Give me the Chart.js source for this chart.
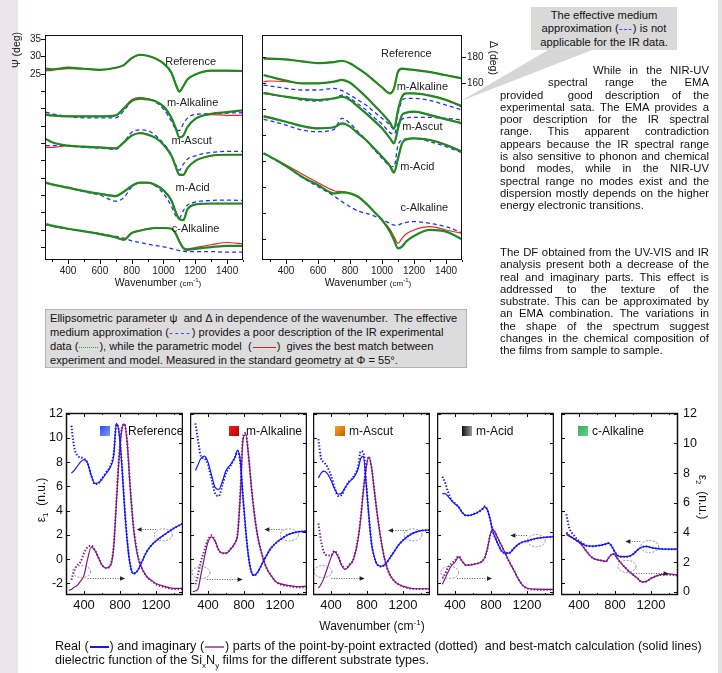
<!DOCTYPE html>
<html>
<head>
<meta charset="utf-8">
<script src="https://cdn.jsdelivr.net/npm/chart.js@4.4.1/dist/chart.umd.min.js"></script>
<style>
  body { margin: 0; width: 722px; height: 673px; position: relative; overflow: hidden; background: #fff;
         font-family: Arial, "Liberation Sans", sans-serif; color: #111; }
  canvas, .abs { position: absolute; }
  .mid { position: absolute; white-space: nowrap; transform: translate(-50%, -50%); }
  .para { position: absolute; left: 500px; width: 209px; font-size: 11.3px; line-height: 12.3px; }
  .j { white-space: nowrap; text-align: justify; text-align-last: justify; }
  .ln { display: inline-block; width: 19px; height: 0; vertical-align: middle; margin: 0 1px; }
  .sq { position: absolute; width: 10px; height: 10px; }
  .lg { position: absolute; font-size: 12px; white-space: nowrap; line-height: 12px; }
  .dash { color: #2233ff; letter-spacing: 2px; }
</style>
</head>
<body>
<div class="abs" style="left:0;top:0;width:18px;height:673px;background:#ebe4e8"></div>
<div class="abs" style="left:718px;top:0;width:4px;height:673px;background:#e2e2e2"></div>

<canvas id="psi" width="250" height="270" style="left:0;top:30px"></canvas>
<canvas id="del" width="237" height="270" style="left:255px;top:30px"></canvas>
<canvas id="p0" width="167" height="210" style="left:16px;top:405px"></canvas>
<canvas id="p1" width="117" height="210" style="left:190px;top:405px"></canvas>
<canvas id="p2" width="117" height="210" style="left:313px;top:405px"></canvas>
<canvas id="p3" width="117" height="210" style="left:437px;top:405px"></canvas>
<canvas id="p4" width="147" height="210" style="left:561px;top:405px"></canvas>

<svg class="abs" style="left:0;top:0" width="722" height="673">
  <polygon points="548,50 592,50 461,101" fill="#d6d6d6"/>
</svg>

<!-- axis titles, top -->
<div class="mid" style="left:16px;top:50px;font-size:10.5px;transform:translate(-50%,-50%) rotate(-90deg)">&Psi; (deg)</div>
<div class="mid" style="left:494px;top:58px;font-size:10.5px;transform:translate(-50%,-50%) rotate(90deg)">&Delta; (deg)</div>
<div class="mid" style="left:158px;top:282px;font-size:10.5px">Wavenumber <span style="font-size:8px">(cm<sup style="font-size:6px">-1</sup>)</span></div>
<div class="mid" style="left:368px;top:282px;font-size:10.5px">Wavenumber <span style="font-size:8px">(cm<sup style="font-size:6px">-1</sup>)</span></div>

<!-- callout -->
<div class="abs" style="left:531px;top:7px;width:146px;height:43px;background:#d9d9d9;font-size:11.2px;line-height:13.4px;text-align:center;padding-top:2px;box-sizing:border-box;white-space:nowrap">
  The effective medium<br>approximation (<span class="dash" style="letter-spacing:1px">---</span>) is not<br>applicable for the IR data.
</div>

<div class="para" style="top:64px">
  <div class="j" style="padding-left:93px">While in the NIR-UV</div>
  <div class="j" style="padding-left:48px">spectral range the EMA</div>
  <div class="j">provided &nbsp;good description of the</div>
  <div class="j">experimental sata. The EMA provides a</div>
  <div class="j">poor description for the IR spectral</div>
  <div class="j">range. This apparent contradiction</div>
  <div class="j">appears because the IR spectral range</div>
  <div class="j">is also sensitive to phonon and chemical</div>
  <div class="j">bond modes, while in the NIR-UV</div>
  <div class="j">spectral range no modes exist and the</div>
  <div class="j">dispersion mostly depends on the higher</div>
  <div>energy electronic transitions.</div>
</div>
<div class="para" style="top:246px">
  <div class="j">The DF obtained from the UV-VIS and IR</div>
  <div class="j">analysis present both a decrease of the</div>
  <div class="j">real and imaginary parts. This effect is</div>
  <div class="j">addressed to the texture of the</div>
  <div class="j">substrate. This can be approximated by</div>
  <div class="j">an EMA combination. The variations in</div>
  <div class="j">the shape of the spectrum suggest</div>
  <div class="j">changes in the chemical composition of</div>
  <div>the films from sample to sample.</div>
</div>

<div class="abs" style="left:45px;top:309px;width:422px;height:59px;box-sizing:border-box;background:#dcdcdc;border:1px solid #b4b4b4;padding:1px 4px;font-size:11.1px;line-height:14px;white-space:nowrap">
  Ellipsometric parameter &psi;&nbsp; and &Delta; in dependence of the wavenumber.&nbsp; The effective<br>
  medium approximation (<span class="dash">----</span>) provides a poor description of the IR experimental<br>
  data (<span class="ln" style="width:19px;border-top:1.5px dotted #2a9a2a"></span>), while the parametric model &nbsp;(<span class="ln" style="width:23px;border-top:1.5px solid #e02020"></span>) &nbsp;gives the best match between<br>
  experiment and model. Measured in the standard geometry at &Phi; = 55&deg;.
</div>

<!-- bottom panels: legends and titles -->
<div class="sq" style="left:100px;top:426px;background:linear-gradient(135deg,#2c4cff,#7f9cff)"></div>
<div class="lg" style="left:128px;top:425px">Reference</div>
<div class="sq" style="left:229px;top:426px;background:linear-gradient(135deg,#f02020,#b80000)"></div>
<div class="lg" style="left:246px;top:425px">m-Alkaline</div>
<div class="sq" style="left:335px;top:426px;background:linear-gradient(135deg,#f7a52a,#c85a00)"></div>
<div class="lg" style="left:349px;top:425px">m-Ascut</div>
<div class="sq" style="left:462px;top:426px;background:linear-gradient(90deg,#111,#9a9a9a)"></div>
<div class="lg" style="left:476px;top:425px">m-Acid</div>
<div class="sq" style="left:578px;top:426px;background:linear-gradient(135deg,#2fae5c,#6cd08e)"></div>
<div class="lg" style="left:592px;top:425px">c-Alkaline</div>

<div class="mid" style="left:42px;top:500px;font-size:12px;transform:translate(-50%,-50%) rotate(-90deg)">&epsilon;<sub style="font-size:8px">1</sub>&nbsp; (n.u.)</div>
<div class="mid" style="left:702px;top:497px;font-size:12px;transform:translate(-50%,-50%) rotate(90deg)">&epsilon;<sub style="font-size:8px">2</sub>&nbsp; (n.u.)</div>
<div class="mid" style="left:372px;top:625px;font-size:12px">Wavenumber (cm<sup style="font-size:8px">-1</sup>)</div>

<div class="abs" style="left:55px;top:639px;font-size:12.6px;line-height:14px;white-space:nowrap">
  Real (<span class="ln" style="border-top:2px solid #1414ff"></span>) and imaginary (<span class="ln" style="border-top:2px solid #b060b8"></span>) parts of the point-by-point extracted (dotted)&nbsp; and best-match calculation (solid lines)<br>
  dielectric function of the Si<sub style="font-size:8px">x</sub>N<sub style="font-size:8px">y</sub> films for the different substrate types.
</div>

<script>
// ---- top panels: wavenumber grid (cm-1) and tick labels
const TOP_X = [260, 300, 400, 500, 600, 700, 750, 800, 850, 900, 950, 1000, 1050, 1075, 1100, 1125, 1150, 1200, 1300, 1400, 1500];
const TOP_XTICKS = [400, 600, 800, 1000, 1200, 1400];
const TOP_XMINOR = [300, 500, 700, 900, 1100, 1300, 1500];
const PSI_TICKS = [-25, -20, -15, -10, -5, 0, 5, 10, 15, 20, 25, 30, 35];
const PSI_LABELS = [25, 30, 35];
const DEL_TICKS = [40, 60, 80, 100, 120, 140, 160, 180];
const DEL_LABELS = [160, 180];
const SAMPLES = ['Reference', 'm-Alkaline', 'm-Ascut', 'm-Acid', 'c-Alkaline'];

// Psi (deg), curves offset in the plot; EXP = experiment, FIT = parametric model, EMA = effective medium
const PSI_REF_EXP = [26.5, 26.3, 26.75, 26.45, 26.15, 26.75, 27.5, 29.5, 30.5, 30.2, 29.4, 28.0, 25.3, 22.2, 19.8, 21.4, 23.35, 24.8, 25.9, 25.9, 25.8];
const PSI_REF_FIT = [25.9, 26.0, 26.5, 26.4, 26.1, 26.7, 27.5, 29.4, 30.4, 30.2, 29.4, 28.0, 25.4, 22.4, 20.1, 21.4, 23.3, 24.8, 25.8, 25.8, 25.7];
const PSI_ALK_EXP = [13.25, 12.96, 12.67, 12.67, 12.67, 12.96, 14.9, 17.14, 17.82, 17.62, 17.04, 15.58, 12.28, 9.56, 6.6, 7.14, 9.56, 11.99, 13.45, 13.93, 14.42];
const PSI_ALK_FIT = [13.0, 12.9, 12.8, 12.7, 12.7, 13.0, 15.1, 17.5, 18.1, 17.8, 17.1, 15.6, 12.3, 9.6, 6.8, 7.3, 9.6, 12.0, 13.2, 13.0, 13.0];
const PSI_ALK_EMA = [13.93, 13.45, 12.67, 12.28, 12.28, 12.28, 14.22, 17.04, 17.62, 17.52, 16.84, 14.8, 11.31, 9.08, 8.59, 10.53, 12.18, 13.25, 13.45, 13.64, 13.74];
const PSI_ASC_EXP = [6.17, 5.19, 4.22, 3.93, 3.74, 3.45, 5.19, 7.14, 7.82, 7.43, 6.46, 4.51, 1.31, -1.6, -4.2, -4.2, -2.28, -0.15, 1.31, 1.6, 1.6];
const PSI_ASC_FIT = [3.74, 3.74, 4.22, 3.93, 3.74, 3.5, 5.3, 7.2, 7.9, 7.5, 6.5, 4.5, 1.3, -1.6, -4.0, -4.1, -2.3, -0.2, 1.3, 1.6, 1.6];
const PSI_ASC_EMA = [4.22, 4.22, 4.22, 3.74, 3.54, 3.16, 5.19, 8.11, 8.79, 8.59, 7.14, 4.9, 1.6, -1.12, -2.86, -1.12, 0.34, 1.31, 2.28, 2.57, 2.57];
const PSI_ACI_EXP = [-6.46, -6.94, -7.91, -8.88, -9.66, -10.34, -9.08, -7.43, -6.46, -6.46, -7.14, -8.69, -11.6, -14.71, -17.0, -17.3, -14.22, -12.77, -12.48, -12.48, -12.48];
const PSI_ACI_FIT = [-6.6, -7.0, -7.9, -8.9, -9.6, -10.2, -9.0, -7.4, -6.5, -6.5, -7.1, -8.6, -11.5, -14.6, -16.9, -17.2, -14.3, -12.8, -12.5, -12.5, -12.5];
const PSI_ACI_EMA = [-6.46, -6.94, -7.91, -9.08, -10.05, -11.8, -10.83, -7.72, -6.46, -6.46, -7.43, -9.66, -13.25, -15.87, -16.65, -14.51, -12.96, -12.09, -11.6, -11.5, -11.6];
const PSI_CAL_EXP = [-18.4, -18.88, -19.76, -20.53, -21.31, -22.28, -22.96, -21.02, -20.34, -19.85, -19.56, -19.56, -19.76, -21.02, -23.45, -25.39, -25.87, -25.58, -25.1, -24.71, -24.71];
const PSI_CAL_FIT = [-18.6, -19.0, -19.8, -20.5, -21.2, -22.2, -22.8, -21.0, -20.3, -19.8, -19.5, -19.5, -19.7, -21.0, -23.3, -25.2, -25.6, -25.2, -24.4, -23.74, -24.13];
const PSI_CAL_EMA = [-18.59, -19.08, -19.85, -20.53, -21.21, -21.99, -22.48, -23.25, -23.74, -24.22, -24.61, -25.0, -25.49, -25.78, -26.07, -26.26, -26.36, -26.36, -26.36, -26.55, -26.55];

// Delta (deg)
const DEL_REF_EXP = [179.2, 179, 178.5, 176.9, 175.6, 176.4, 177.4, 175.4, 171.5, 167.2, 162.1, 156.9, 152.3, 156.2, 169, 171.3, 171, 170.3, 168.7, 166.2, 163.8];
const DEL_REF_FIT = [178.8, 178.7, 178.3, 176.9, 175.8, 176.5, 177.2, 175.3, 171.5, 167.2, 162.1, 157.0, 152.6, 156.5, 168.5, 171.0, 170.8, 170.2, 168.6, 166.3, 164.0];
const DEL_ALK_EXP = [166.4, 165.1, 162.1, 160, 160, 161.3, 162.6, 160.5, 155.4, 149.7, 143.3, 136.9, 129.7, 124.9, 139.5, 149.7, 152.3, 152.3, 150.5, 147.2, 142.1];
const DEL_ALK_FIT = [161.3, 161.8, 161.3, 160, 160, 161.3, 162.4, 160.4, 155.4, 149.7, 143.3, 136.9, 129.8, 125.2, 139.0, 149.5, 152.2, 152.3, 150.6, 147.6, 142.8];
const DEL_ALK_EMA = [158.7, 158, 156.2, 154.9, 154.9, 156.2, 154.4, 151, 147.2, 143.3, 138.2, 133.1, 127.9, 124.6, 136.9, 146.7, 148.5, 148.5, 146.7, 143.3, 139.5];
const DEL_ASC_EXP = [152.8, 151.8, 149.7, 148, 147.2, 148.5, 149.7, 147.2, 142.1, 136.9, 131.3, 125.4, 117.7, 113.8, 125.4, 135.6, 137.4, 138.2, 135.6, 132.3, 129.2];
const DEL_ASC_FIT = [152.0, 151.5, 149.6, 148, 147.2, 148.4, 149.5, 147.2, 142.2, 137.0, 131.4, 125.5, 117.9, 114.2, 125.0, 135.2, 137.2, 138.0, 135.8, 132.6, 129.6];
const DEL_ASC_EMA = [152.3, 151.5, 149.7, 147.2, 146.4, 148.5, 151, 148.5, 144.1, 139.5, 133.8, 128.7, 122.1, 121, 128.7, 132.3, 133.6, 133.8, 133.8, 133.1, 131.8];
const DEL_ACI_EXP = [134.9, 133.6, 130.5, 127.2, 125.4, 126.2, 129.2, 126.7, 121.5, 116.4, 110, 103.6, 96.4, 91.3, 102.3, 113.8, 116.9, 117.7, 116.4, 112.6, 107.4];
const DEL_ACI_FIT = [134.0, 133.2, 130.4, 127.3, 125.5, 126.3, 129.0, 126.8, 121.6, 116.4, 110.1, 103.8, 96.8, 91.9, 101.8, 113.4, 116.7, 117.6, 116.5, 112.9, 107.8];
const DEL_ACI_EMA = [132.3, 131.3, 127.9, 124.1, 122.8, 124.6, 133.1, 129.2, 122.8, 116.4, 109.2, 102.3, 96.4, 95.9, 112.6, 116.4, 117.2, 117.7, 115.1, 111.3, 106.7];
const DEL_CAL_EXP = [106.2, 103.6, 96.4, 88.2, 81.8, 75.4, 76.2, 75.4, 72.8, 67.7, 61.3, 54.9, 45.9, 39.5, 33.1, 34.4, 38.2, 42.6, 47.2, 45.9, 40];
const DEL_CAL_FIT = [106.2, 103.6, 97.2, 90.3, 83.6, 77.4, 76.7, 75.4, 72.8, 67.7, 61.3, 54.9, 47.7, 42.1, 36.9, 40.8, 44.1, 47.2, 49.7, 47.2, 44.6];
const DEL_CAL_EMA = [106.2, 103.1, 96.4, 87.7, 80.5, 73.3, 69, 65.1, 61.8, 60, 58, 55.4, 52.3, 51, 51, 52.3, 53.1, 53.6, 52.3, 49.7, 45.1];

// label anchors in data units (wavenumber, deg)
const PSI_TAG_X = [1171, 1183, 1177, 1183, 1202];
const PSI_TAG_Y = [28.5, 16.6, 5.6, -8.0, -19.8];
const DEL_TAG_X = [1152, 1252, 1252, 1221, 1265];
const DEL_TAG_Y = [182.5, 157.2, 126.4, 95.6, 64];

// ---- bottom panels: dielectric function
const B_X = [230, 260, 290, 320, 360, 400, 440, 480, 520, 560, 600, 650, 700, 730, 760, 790, 820, 850, 880, 910, 950, 1000, 1050, 1100, 1150, 1200, 1300, 1400, 1500];
const B_XTICKS = [400, 800, 1200];
const B_XMINOR = [200, 600, 1000, 1400];
const E1_TICKS = [-2, 0, 2, 4, 6, 8, 10, 12];
const E2_TICKS = [0, 2, 4, 6, 8, 10, 12];

const E1_REF_FIT = [null, 7.1, 7.3, 7.6, 8.0, 8.2, 7.9, 6.9, 6.25, 6.3, 6.6, 7.1, 7.7, 8.5, 11.2, 10.4, 7.8, 4.3, 1.5, -0.35, -1.2, -0.9, -0.1, 0.65, 1.15, 1.5, 2.05, 2.55, 2.95];
const E1_REF_EXT = [null, 11.0, 9.3, 8.6, 8.4, 8.3, 7.9, 6.9, 6.2, 6.25, 6.65, 7.2, 7.8, 8.7, 11.1, 10.5, 7.9, 4.4, 1.6, -0.3, -1.2, -0.9, -0.1, 0.65, 1.15, 1.5, 2.05, 2.55, 2.95];
const E2_REF_FIT = [0.1, 0.15, 0.3, 0.4, 0.7, 1.1, 2.2, 3.0, 2.8, 2.3, 1.8, 1.6, 1.85, 3.0, 6.0, 9.0, 10.9, 11.3, 10.0, 7.3, 4.3, 2.3, 1.5, 1.0, 0.75, 0.55, 0.35, 0.22, 0.22];
const E2_REF_EXT = [null, 0.8, 1.4, 1.75, 2.0, 2.6, 3.0, 3.1, 2.8, 2.3, 1.8, 1.6, 1.9, 3.1, 6.2, 9.2, 11.0, 11.3, 10.1, 7.4, 4.4, 2.4, 1.5, 1.0, 0.75, 0.5, 0.3, 0.18, 0.18];

const E1_ALK_FIT = [null, 7.3, 7.8, 8.3, 8.5, 8.0, 6.9, 5.9, 5.75, 6.4, 7.3, 7.8, 8.4, 9.0, 8.0, 5.0, 2.3, 0.2, -1.0, -1.35, -1.1, -0.4, 0.3, 0.9, 1.3, 1.6, 2.05, 2.25, 2.3];
const E1_ALK_EXT = [null, 11.2, 9.8, 8.5, 8.3, 7.8, 6.6, 5.4, 5.2, 6.1, 7.1, 7.7, 8.4, 8.9, 7.9, 5.0, 2.3, 0.2, -1.0, -1.35, -1.1, -0.4, 0.3, 0.9, 1.3, 1.6, 2.05, 2.25, 2.3];
const E2_ALK_FIT = [0.0, 0.05, 0.2, 1.1, 2.3, 3.35, 3.7, 3.4, 2.8, 2.6, 2.6, 2.85, 3.3, 3.9, 6.6, 10.3, 10.6, 9.2, 7.2, 5.5, 3.8, 2.5, 1.6, 1.1, 0.7, 0.55, 0.42, 0.35, 0.38];
const E2_ALK_EXT = [null, 0.5, 1.2, 2.0, 2.8, 3.5, 3.8, 3.4, 2.8, 2.6, 2.6, 2.9, 3.3, 4.0, 6.8, 10.5, 10.7, 9.2, 7.2, 5.5, 3.8, 2.5, 1.6, 1.1, 0.7, 0.5, 0.38, 0.3, 0.32];

const E1_ASC_FIT = [null, 6.7, 7.1, 7.25, 7.05, 6.5, 5.8, 5.35, 5.45, 5.95, 6.35, 6.7, 7.4, 8.3, 8.5, 6.3, 3.6, 1.3, 0.2, -0.4, -0.6, -0.45, 0.05, 0.6, 1.15, 1.55, 2.1, 2.35, 2.4];
const E1_ASC_EXT = [null, 9.9, 8.3, 8.0, 7.6, 6.9, 5.9, 5.2, 5.3, 5.9, 6.4, 6.8, 7.6, 8.9, 8.8, 6.4, 3.6, 1.3, 0.2, -0.4, -0.6, -0.45, 0.05, 0.6, 1.15, 1.55, 2.1, 2.35, 2.4];
const E2_ASC_FIT = [null, 0.25, 0.5, 0.9, 1.6, 2.3, 2.7, 2.35, 1.75, 1.5, 1.75, 2.2, 3.5, 4.9, 6.8, 8.3, 9.1, 8.4, 6.9, 5.4, 3.7, 2.1, 1.2, 0.75, 0.5, 0.38, 0.22, 0.2, 0.2];
const E2_ASC_EXT = [null, 4.6, 3.4, 2.7, 2.45, 2.45, 2.75, 2.4, 1.8, 1.55, 1.8, 2.2, 3.6, 5.0, 6.9, 8.4, 9.1, 8.4, 6.9, 5.4, 3.7, 2.1, 1.2, 0.75, 0.5, 0.35, 0.2, 0.18, 0.18];

const E1_ACI_FIT = [null, 5.4, 5.4, 5.2, 4.85, 4.55, 4.3, 3.85, 3.6, 3.6, 3.7, 3.85, 4.1, 4.3, 4.05, 3.3, 2.3, 1.7, 1.2, 0.75, 0.5, 0.5, 0.85, 1.2, 1.4, 1.5, 1.7, 1.8, 1.85];
const E1_ACI_EXT = [null, 6.8, 6.3, 5.6, 4.9, 4.6, 4.3, 3.85, 3.6, 3.6, 3.7, 3.85, 4.1, 4.35, 4.05, 3.3, 2.3, 1.7, 1.2, 0.75, 0.5, 0.5, 0.85, 1.2, 1.4, 1.5, 1.7, 1.8, 1.85];
const E2_ACI_FIT = [null, 0.5, 0.9, 1.3, 1.75, 2.0, 2.35, 2.05, 1.8, 1.8, 1.85, 1.9, 2.05, 2.3, 2.9, 3.8, 4.2, 3.95, 3.55, 3.2, 2.7, 2.05, 1.5, 0.9, 0.45, 0.25, 0.17, 0.16, 0.16];
const E2_ACI_EXT = [null, 0.9, 1.2, 1.6, 1.9, 2.1, 2.4, 2.05, 1.8, 1.8, 1.85, 1.9, 2.05, 2.3, 2.9, 3.8, 4.2, 3.95, 3.55, 3.2, 2.7, 2.05, 1.5, 0.9, 0.45, 0.22, 0.14, 0.13, 0.13];

const E1_CAL_FIT = [null, 2.15, 1.95, 1.8, 1.6, 1.4, 1.25, 1.1, 1.07, 1.07, 1.1, 1.15, 1.25, 1.32, 1.1, 0.7, 0.35, 0.22, 0.2, 0.2, 0.22, 0.4, 0.75, 1.0, 1.05, 0.95, 0.85, 0.82, 0.82];
const E1_CAL_EXT = [null, 3.7, 2.6, 2.2, 1.8, 1.5, 1.3, 1.12, 1.07, 1.07, 1.1, 1.15, 1.25, 1.32, 1.1, 0.7, 0.35, 0.22, 0.2, 0.2, 0.22, 0.4, 0.75, 1.0, 1.05, 0.95, 0.85, 0.82, 0.82];
const E2_CAL_FIT = [null, 3.85, 3.75, 3.65, 3.5, 3.35, 3.1, 2.75, 2.45, 2.25, 2.17, 2.1, 2.05, 2.3, 2.5, 2.55, 2.3, 2.05, 1.85, 1.65, 1.4, 1.15, 0.9, 0.65, 0.7, 0.9, 1.15, 1.2, 1.13];
const E2_CAL_EXT = [null, 4.0, 3.8, 3.65, 3.5, 3.35, 3.1, 2.75, 2.45, 2.25, 2.17, 2.1, 2.05, 2.3, 2.5, 2.55, 2.3, 2.05, 1.85, 1.65, 1.4, 1.15, 0.9, 0.65, 0.7, 0.9, 1.12, 1.15, 1.1];

// ellipses / arrows marking which axis a curve belongs to (wavenumber, eps1)
const NOTE_E1_ELL = [[1281, 2.0], [1304, 2.0], [1311, 2.0], [1304, 1.53], [1185, 1.04]];
const NOTE_E1_ARR = [[1200, 985, 2.47], [1225, 1026, 2.47], [1237, 1033, 2.41], [1200, 1015, 2.0], [1081, 915, 1.5]];
const NOTE_E2_ELL = [[374, -1.03], [322, -1.11], [311, -1.03], [341, -1.1], [933, -0.6]];
const NOTE_E2_ARR = [[440, 856, -1.53], [390, 785, -1.6], [404, 774, -1.53], [422, 811, -1.53], [1007, 1396, -1.11]];

Chart.defaults.font.family = 'Arial, "Liberation Sans", sans-serif';
Chart.defaults.color = '#111';

const GREEN = '#1f8a1f', RED = '#ee2222', BLUE = '#2030ff';
const E_BLUE = '#1414ff', E_PURPLE = '#7e1a84';
const NO_GRID = { display: false, drawTicks: false, tickLength: 0 };

function series(xs, ys, style) {
  return Object.assign({
    data: xs.map((x, i) => ({ x, y: ys[i] })),
    pointRadius: 0,
    borderWidth: 1.2,
    cubicInterpolationMode: 'monotone',
    fill: false
  }, style);
}

// fixed axis size, no extra room for half tick labels
const fixSize = (w, h) => s => {
  if (w !== undefined) s.width = w;
  if (h !== undefined) s.height = h;
  s.paddingTop = 0; s.paddingBottom = 0; s.paddingLeft = 0; s.paddingRight = 0;
};

// box around the plot area + tick marks (positive len = inward)
const framePlugin = {
  id: 'frame',
  afterDraw(chart, args, opts) {
    const { ctx, chartArea: a } = chart;
    ctx.save();
    ctx.strokeStyle = '#111';
    ctx.lineWidth = opts.width || 1;
    ctx.strokeRect(a.left + 0.5, a.top + 0.5, a.width - 1, a.height - 1);
    ctx.lineWidth = 1;
    (opts.ticks || []).forEach(t => {
      const sc = chart.scales[t.scale];
      t.values.forEach(v => {
        const p = Math.round(sc.getPixelForValue(v)) + 0.5;
        ctx.beginPath();
        if (t.side === 'left') { ctx.moveTo(a.left, p); ctx.lineTo(a.left + t.len, p); }
        if (t.side === 'right') { ctx.moveTo(a.right, p); ctx.lineTo(a.right - t.len, p); }
        if (t.side === 'bottom') { ctx.moveTo(p, a.bottom); ctx.lineTo(p, a.bottom - t.len); }
        if (t.side === 'top') { ctx.moveTo(p, a.top); ctx.lineTo(p, a.top + t.len); }
        ctx.stroke();
      });
    });
    ctx.restore();
  }
};

// sample names written inside the top plots
const tagPlugin = {
  id: 'tags',
  afterDatasetsDraw(chart, args, opts) {
    if (!opts.text) return;
    const { ctx } = chart;
    ctx.save();
    ctx.font = '11px Arial, "Liberation Sans", sans-serif';
    ctx.fillStyle = '#222';
    ctx.textAlign = 'center';
    ctx.textBaseline = 'middle';
    opts.text.forEach((s, i) => {
      ctx.fillText(s, chart.scales.x.getPixelForValue(opts.xs[i]), chart.scales.y.getPixelForValue(opts.ys[i]));
    });
    ctx.restore();
  }
};

// dashed ellipses and dotted arrows in the bottom panels
const notePlugin = {
  id: 'notes',
  afterDatasetsDraw(chart, args, o) {
    if (!o.ell) return;
    const { ctx } = chart, x = chart.scales.x, y = chart.scales.y;
    ctx.save();
    o.ell.forEach(([w, v]) => {
      ctx.strokeStyle = '#777'; ctx.lineWidth = 0.8; ctx.setLineDash([2, 1.5]);
      ctx.beginPath();
      ctx.ellipse(x.getPixelForValue(w), y.getPixelForValue(v), 9, 6, 0, 0, Math.PI * 2);
      ctx.stroke();
    });
    o.arr.forEach(([w0, w1, v]) => {
      const x0 = x.getPixelForValue(w0), x1 = x.getPixelForValue(w1), py = Math.round(y.getPixelForValue(v)) + 0.5;
      const d = Math.sign(x1 - x0);
      ctx.strokeStyle = '#444'; ctx.lineWidth = 0.9; ctx.setLineDash([1, 1.5]);
      ctx.beginPath(); ctx.moveTo(x0, py); ctx.lineTo(x1 - d * 4, py); ctx.stroke();
      ctx.setLineDash([]); ctx.fillStyle = '#222';
      ctx.beginPath(); ctx.moveTo(x1, py); ctx.lineTo(x1 - d * 5, py - 2.2); ctx.lineTo(x1 - d * 5, py + 2.2); ctx.closePath(); ctx.fill();
    });
    ctx.restore();
  }
};

const setTicks = vals => scale => { scale.ticks = vals.map(v => ({ value: v })); };

function topChart(id, groups, yOpts, frameTicks, tags) {
  const datasets = [];
  groups.forEach(g => {
    datasets.push(series(TOP_X, g[0], { borderColor: GREEN, borderWidth: 2.2 }));
    datasets.push(series(TOP_X, g[1], { borderColor: RED, borderWidth: 1.2 }));
    if (g[2]) datasets.push(series(TOP_X, g[2], { borderColor: BLUE, borderWidth: 1.3, borderDash: [4, 3] }));
  });
  return new Chart(document.getElementById(id), {
    type: 'line',
    data: { datasets },
    options: {
      responsive: false, animation: false, devicePixelRatio: 1,
      layout: { padding: yOpts.padding },
      plugins: { legend: { display: false }, tooltip: { enabled: false },
        frame: { ticks: frameTicks }, tags },
      scales: {
        x: { type: 'linear', min: yOpts.xmin, max: 1500,
          grid: NO_GRID, border: { display: false },
          ticks: { font: { size: 10 }, padding: 5, maxRotation: 0, autoSkip: false, color: '#222',
            callback: v => String(v) },
          afterBuildTicks: setTicks(TOP_XTICKS),
          afterFit: fixSize(undefined, 40) },
        y: { type: 'linear', position: yOpts.position, min: yOpts.min, max: yOpts.max,
          grid: NO_GRID, border: { display: false },
          ticks: { font: { size: 10 }, padding: yOpts.pad, autoSkip: false, color: '#222',
            callback: v => yOpts.labels.includes(v) ? String(v) : '' },
          afterBuildTicks: setTicks(yOpts.ticks),
          afterFit: fixSize(yOpts.width) }
      }
    },
    plugins: [framePlugin, tagPlugin]
  });
}

topChart('psi', [
  [PSI_REF_EXP, PSI_REF_FIT],
  [PSI_ALK_EXP, PSI_ALK_FIT, PSI_ALK_EMA],
  [PSI_ASC_EXP, PSI_ASC_FIT, PSI_ASC_EMA],
  [PSI_ACI_EXP, PSI_ACI_FIT, PSI_ACI_EMA],
  [PSI_CAL_EXP, PSI_CAL_FIT, PSI_CAL_EMA]
], { xmin: 255, min: -28.8, max: 36.2, ticks: PSI_TICKS, labels: PSI_LABELS, position: 'left', width: 45, pad: 4,
     padding: { top: 5, right: 7, left: 0, bottom: 0 } },
  [{ side: 'left', scale: 'y', values: PSI_TICKS, len: -4 },
   { side: 'bottom', scale: 'x', values: TOP_XTICKS, len: -4 },
   { side: 'bottom', scale: 'x', values: TOP_XMINOR, len: -2 }],
  { text: SAMPLES, xs: PSI_TAG_X, ys: PSI_TAG_Y });

topChart('del', [
  [DEL_REF_EXP, DEL_REF_FIT],
  [DEL_ALK_EXP, DEL_ALK_FIT, DEL_ALK_EMA],
  [DEL_ASC_EXP, DEL_ASC_FIT, DEL_ASC_EMA],
  [DEL_ACI_EXP, DEL_ACI_FIT, DEL_ACI_EMA],
  [DEL_CAL_EXP, DEL_CAL_FIT, DEL_CAL_EMA]
], { xmin: 250, min: 24.1, max: 197.2, ticks: DEL_TICKS, labels: DEL_LABELS, position: 'right', width: 30, pad: 5,
     padding: { top: 5, right: 0, left: 7, bottom: 0 } },
  [{ side: 'left', scale: 'y', values: DEL_TICKS, len: 4 },
   { side: 'right', scale: 'y', values: DEL_LABELS, len: -4 },
   { side: 'bottom', scale: 'x', values: TOP_XTICKS, len: -4 },
   { side: 'bottom', scale: 'x', values: TOP_XMINOR, len: -2 }],
  { text: SAMPLES, xs: DEL_TAG_X, ys: DEL_TAG_Y });

const PANELS = [
  [E1_REF_FIT, E1_REF_EXT, E2_REF_FIT, E2_REF_EXT],
  [E1_ALK_FIT, E1_ALK_EXT, E2_ALK_FIT, E2_ALK_EXT],
  [E1_ASC_FIT, E1_ASC_EXT, E2_ASC_FIT, E2_ASC_EXT],
  [E1_ACI_FIT, E1_ACI_EXT, E2_ACI_FIT, E2_ACI_EXT],
  [E1_CAL_FIT, E1_CAL_EXT, E2_CAL_FIT, E2_CAL_EXT]
];

PANELS.forEach(([e1f, e1x, e2f, e2x], i) => {
  const first = i === 0, last = i === PANELS.length - 1;
  const dotted = { borderWidth: 2, borderDash: [1.4, 1.8], cubicInterpolationMode: 'monotone' };
  new Chart(document.getElementById('p' + i), {
    type: 'line',
    data: { datasets: [
      series(B_X, e1x, Object.assign({ borderColor: E_BLUE, yAxisID: 'y' }, dotted)),
      series(B_X, e1f, { borderColor: E_BLUE, yAxisID: 'y', borderWidth: 1.2 }),
      series(B_X, e2x, Object.assign({ borderColor: E_PURPLE, yAxisID: 'y2' }, dotted)),
      series(B_X, e2f, { borderColor: E_PURPLE, yAxisID: 'y2', borderWidth: 1.2 })
    ] },
    options: {
      responsive: false, animation: false, devicePixelRatio: 1,
      layout: { padding: { top: 8, left: 0, right: 0, bottom: 0 } },
      plugins: { legend: { display: false }, tooltip: { enabled: false },
        frame: { width: 1.5, ticks: [
          { side: 'left', scale: 'y', values: E1_TICKS, len: 4 },
          { side: 'right', scale: 'y2', values: E2_TICKS, len: 4 },
          { side: 'bottom', scale: 'x', values: B_XTICKS, len: 4 },
          { side: 'bottom', scale: 'x', values: B_XMINOR, len: 2 },
          { side: 'top', scale: 'x', values: B_XTICKS, len: 4 },
          { side: 'top', scale: 'x', values: B_XMINOR, len: 2 }] },
        notes: { ell: [NOTE_E1_ELL[i], NOTE_E2_ELL[i]], arr: [NOTE_E1_ARR[i], NOTE_E2_ARR[i]] } },
      scales: {
        x: { type: 'linear', min: 200, max: 1500,
          grid: NO_GRID, border: { display: false },
          ticks: { font: { size: 13 }, padding: 3, maxRotation: 0, autoSkip: false, color: '#111',
            callback: v => String(v) },
          afterBuildTicks: setTicks(B_XTICKS),
          afterFit: fixSize(undefined, 20) },
        y: { type: 'linear', position: 'left', min: -2.96, max: 12.05, display: first,
          grid: NO_GRID, border: { display: false },
          ticks: { font: { size: 12.5 }, padding: 3, autoSkip: false, color: '#111' },
          afterBuildTicks: setTicks(E1_TICKS),
          afterFit: fixSize(first ? 50 : 0) },
        y2: { type: 'linear', position: 'right', min: -0.22, max: 12.05, display: last,
          grid: NO_GRID, border: { display: false },
          ticks: { font: { size: 12.5 }, padding: 5, autoSkip: false, color: '#111' },
          afterBuildTicks: setTicks(E2_TICKS),
          afterFit: fixSize(last ? 30 : 0) }
      }
    },
    plugins: [framePlugin, notePlugin]
  });
});
</script>
</body>
</html>
